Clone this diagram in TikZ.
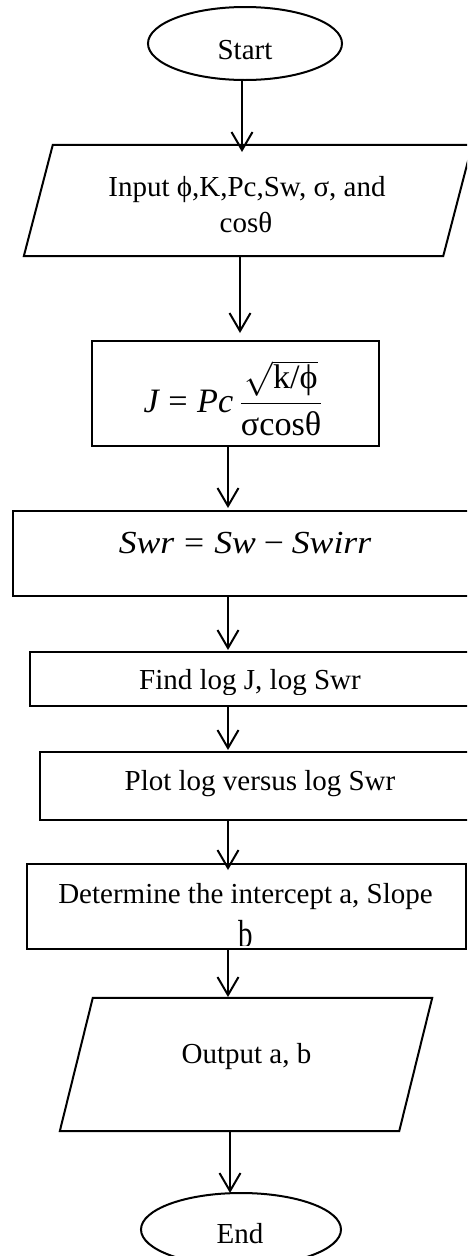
\documentclass[tikz,border=0pt]{standalone}
\usepackage{amsmath}
\usepackage{fontspec}
\setmainfont{Liberation Serif}
\usetikzlibrary{arrows.meta,shapes.geometric}
\tikzset{
  flowline/.style={line width=2pt, line join=miter},
  arr/.style={line width=2pt, -{Straight Barb[length=18pt,width=21pt]}},
  frame/.style={draw, line width=2pt, inner sep=0pt},
  term/.style={frame, ellipse},
  holder/.style={inner sep=0pt},
  txt/.style={anchor=base, inner sep=0pt, font=\fontsize{29}{36}\selectfont},
  formula/.style={anchor=base, inner sep=0pt, font=\fontsize{20.74}{25}\selectfont},
}
% relation and operator signs taken from the text font
\newcommand{\eqsign}{\mathrel{\text{=}}}
\newcommand{\minussign}{\mathbin{\text{−}}}
\begin{document}
\begin{tikzpicture}[x=1pt,y=-1pt]
\useasboundingbox (0,0) rectangle (467,1256);
\clip (0,0) rectangle (467,1256);

% start terminal
\node[term, minimum width=194pt, minimum height=73pt] (start) at (245,43.5) {};
\node[txt] (startt) at (245,59) {Start};

% input parallelogram
\node[holder, minimum width=448pt, minimum height=111pt] (input) at (248,200.5) {};
\draw[flowline] (input.south west) -- ([xshift=29pt]input.north west)
  -- (input.north east) -- ([xshift=-29pt]input.south east) -- cycle;
\node[txt] (inputa) at (247,196) {Input ϕ,K,Pc,Sw, σ, and};
\node[txt] (inputb) at (246,232) {cosθ};

% J-function box
\node[frame, minimum width=287pt, minimum height=105pt] (jbox) at (235.5,393.5) {};
\node[formula] (jeq) at (233.5,412)
  {\scalebox{1.65}{$\mathit{J} \eqsign \mathit{Pc}\,\dfrac{\sqrt{\text{k/ϕ}}}{\text{σcosθ}}$}};

% reduced saturation box
\node[frame, minimum width=467pt, minimum height=85pt] (swr) at (246.5,553.5) {};
\node[formula] (swreq) at (245,553)
  {\scalebox{1.72}[1.55]{$\mathit{Swr} \eqsign \mathit{Sw} \minussign \mathit{Swirr}$}};

% logarithms box
\node[frame, minimum width=440pt, minimum height=54pt] (find) at (250,679) {};
\begin{scope}
  \clip (31,653) rectangle (467,694);
  \node[txt] (findt) at (250,689) {Find log J, log Swr};
\end{scope}

% plot box
\node[frame, minimum width=440pt, minimum height=68pt] (plot) at (260,786) {};
\node[txt] (plott) at (260,790) {Plot log versus log Swr};

% intercept and slope box
\node[frame, minimum width=439pt, minimum height=85pt] (det) at (246.5,906.5) {};
\node[txt] (deta) at (245.5,903) {Determine the intercept a, Slope};
\begin{scope}
  \clip (28,865) rectangle (465,945);
  \node[txt] (detb) at (245.5,947) {\scalebox{1}[1.35]{b}};
\end{scope}

% output parallelogram
\node[holder, minimum width=372pt, minimum height=133pt] (output) at (246,1064.5) {};
\draw[flowline] (output.south west) -- ([xshift=33pt]output.north west)
  -- (output.north east) -- ([xshift=-33pt]output.south east) -- cycle;
\node[txt] (outputt) at (246.5,1063) {Output a, b};

% end terminal
\node[term, minimum width=200pt, minimum height=73pt] (end) at (241,1229.5) {};
\node[txt] (endt) at (240,1243) {End};

% connectors
\coordinate (t1) at (242,152);
\coordinate (t2) at (240,333);
\coordinate (t3) at (228,508);
\coordinate (t4) at (228,650);
\coordinate (t5) at (228,750);
\coordinate (t6) at (228,870);
\coordinate (t7) at (228,997);
\coordinate (t8) at (230,1193);
\draw[arr] (start.south -| t1) -- (t1);
\draw[arr] (input.south -| t2) -- (t2);
\draw[arr] (jbox.south -| t3) -- (t3);
\draw[arr] (swr.south -| t4) -- (t4);
\draw[arr] (find.south -| t5) -- (t5);
\draw[arr] (plot.south -| t6) -- (t6);
\draw[arr] (det.south -| t7) -- (t7);
\draw[arr] (output.south -| t8) -- (t8);
\end{tikzpicture}
\end{document}
